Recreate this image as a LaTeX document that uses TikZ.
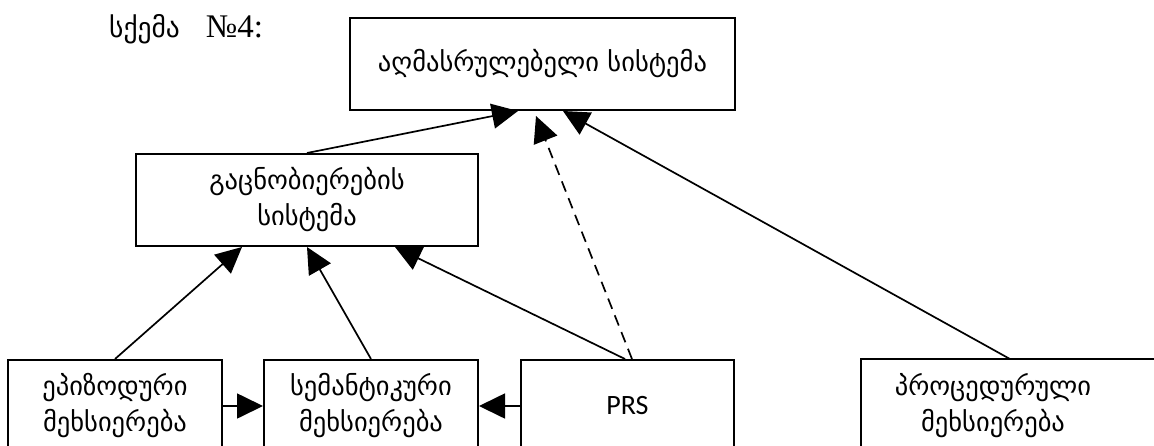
\documentclass[tikz,border=0pt]{standalone}
\usepackage{fontspec}
\setmainfont{DejaVu Sans}
\newfontfamily\geo{DejaVu Sans}
\newfontfamily\tnr{Liberation Serif}
\newfontfamily\calfont{Carlito}
\usetikzlibrary{arrows.meta}
\begin{document}
\begin{tikzpicture}[x=1pt,y=-1pt,
  box/.style={draw, line width=2pt, minimum height=92pt, inner sep=0pt, align=center,
    anchor=north west, font=\geo\fontsize{26.5}{36}\selectfont},
  conn/.style={line width=1.7pt, -{Triangle[length=26pt,width=25pt]}},
  dconn/.style={conn, dash pattern=on 11pt off 7pt},
]
\useasboundingbox (0,0) rectangle (1154,445);
\clip (0,0) rectangle (1154,445);
\fill[white] (0,0) rectangle (1154,445);

\node[anchor=base west, inner sep=0pt] (title) at (109,37)
  {{\geo\fontsize{27.5}{30}\selectfont სქემა}\hspace{26pt}{\tnr\fontsize{33}{36}\selectfont №4:}};

\node[box, minimum width=385pt] (ex) at (349,17) {აღმასრულებელი სისტემა};
\node[box, minimum width=342pt] (cs) at (135,153) {გაცნობიერების\\სისტემა};
\node[box, minimum width=214pt] (ep) at (7,359) {ეპიზოდური\\მეხსიერება};
\node[box, minimum width=214pt] (se) at (263,359) {სემანტიკური\\მეხსიერება};
\node[box, minimum width=213pt, font=\calfont\fontsize{28}{34}\selectfont] (prs) at (520,359) {PRS};
\node[box, draw=none, minimum width=262pt] (pm) at (861,359) {პროცედურული\\მეხსიერება};
\draw[line width=2pt] (pm.south west) -- (pm.north west) -- ++(320,0);

\draw[conn] ([xshift=172pt]cs.north west) -- ([xshift=169pt]ex.south west);
\draw[dconn] ([xshift=112pt]prs.north west) -- ([xshift=187pt,yshift=-5pt]ex.south west);
\draw[conn] ([xshift=149pt]pm.north west) -- ([xshift=214pt]ex.south west);

\draw[conn] (ep.north) -- ([xshift=107pt]cs.south west);
\draw[conn] (se.north) -- ([xshift=172pt]cs.south west);
\draw[conn] ([xshift=105pt]prs.north west) -- ([xshift=260pt]cs.south west);

\draw[conn] (ep.east) -- (se.west);
\draw[conn] (prs.west) -- (se.east);
\end{tikzpicture}
\end{document}
